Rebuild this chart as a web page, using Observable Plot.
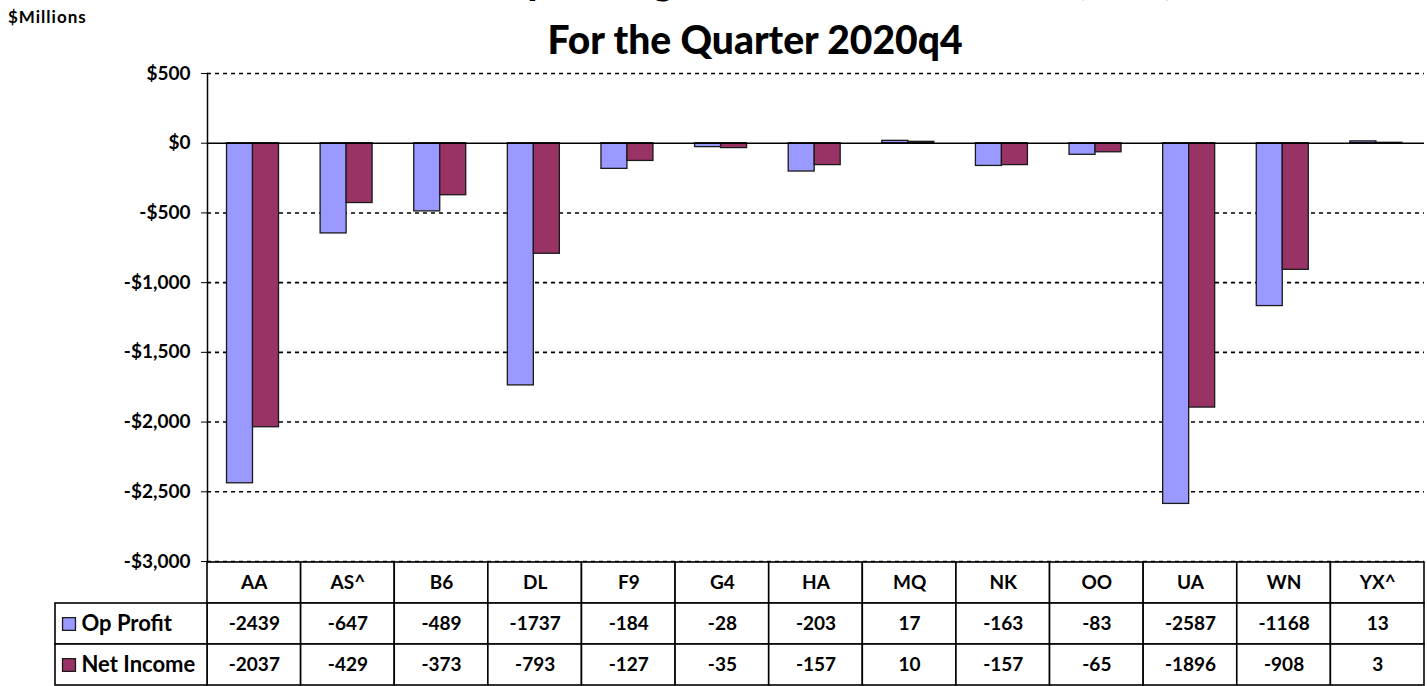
<!DOCTYPE html>
<html>
<head>
<meta charset="utf-8">
<script src="https://cdn.jsdelivr.net/npm/d3@7"></script>
<script src="https://cdn.jsdelivr.net/npm/@observablehq/plot@0.6"></script>
<style>
  html, body { margin: 0; padding: 0; background: #fff; }
  #wrap { position: relative; width: 1427px; height: 686px; overflow: hidden; font-family: Lato, "Open Sans", sans-serif; font-weight: bold; color: #000; }
  .abs { position: absolute; white-space: nowrap; }
  .title { font-size: 39px; line-height: 39px; text-align: center; font-weight: 900; }
</style>
</head>
<body>
<div id="wrap">
  <div class="abs title" style="left:0;width:1670px;top:-40px;">Operating Profit and Net Income (Loss)</div>
  <div class="abs title" style="left:0;width:1510px;top:20px;">For the Quarter 2020q4</div>
  <div class="abs" style="left:8px;top:8px;font-size:17px;line-height:17px;letter-spacing:1px;">$Millions</div>
  <div id="chart" class="abs" style="left:0;top:0;"></div>
  <div id="table" class="abs" style="left:0;top:561px;"></div>
</div>
<script>
const carriers = ["AA","AS^","B6","DL","F9","G4","HA","MQ","NK","OO","UA","WN","YX^"];
const opProfit = [-2439,-647,-489,-1737,-184,-28,-203,17,-163,-83,-2587,-1168,13];
const netIncome = [-2037,-429,-373,-793,-127,-35,-157,10,-157,-65,-1896,-908,3];
const seriesNames = ["Op Profit","Net Income"];
const seriesColors = ["#9999FF","#993366"];
const yTicks = [500,0,-500,-1000,-1500,-2000,-2500,-3000];

const rows = carriers.map((c, i) => ({carrier: c, op: opProfit[i], net: netIncome[i]}));
const money = d => (d < 0 ? "-$" : "$") + d3.format(",")(Math.abs(d));

const W = 1427, ML = 207, MR = 3;
const frameW = W - ML - MR;
const bandW = frameW / carriers.length;
const barW = 26, barOff = 19.5;
const fontStack = "Lato, 'Open Sans', sans-serif";

const chart = Plot.plot({
  width: W,
  height: 563,
  marginTop: 73,
  marginBottom: 2,
  marginLeft: ML,
  marginRight: MR,
  style: {fontFamily: fontStack, fontWeight: "bold", background: "transparent", overflow: "visible"},
  x: {domain: carriers, padding: 0, round: false, axis: null},
  y: {domain: [-3000, 500], axis: null},
  marks: [
    Plot.ruleY(yTicks.filter(d => d !== 0), {stroke: "#000", strokeWidth: 1.6, strokeDasharray: "4,4"}),
    Plot.barY(rows, {x: "carrier", y: "op", fill: seriesColors[0], stroke: "#1a1a1a", strokeWidth: 1.3,
      insetLeft: barOff, insetRight: bandW - barOff - barW}),
    Plot.barY(rows, {x: "carrier", y: "net", fill: seriesColors[1], stroke: "#1a1a1a", strokeWidth: 1.3,
      insetLeft: barOff + barW, insetRight: bandW - barOff - 2 * barW}),
    Plot.ruleY([0], {stroke: "#000", strokeWidth: 1.5}),
    Plot.frame({anchor: "left", stroke: "#000", strokeWidth: 1.5}),
    Plot.axisY({ticks: yTicks, tickFormat: money, tickSize: 6, tickPadding: 11, fontSize: 19, fontWeight: "bold", stroke: "#000"})
  ]
});
document.getElementById("chart").appendChild(chart);

// data table below the chart
const tableRows = ["hdr", seriesNames[0], seriesNames[1]];
const cells = [];
rows.forEach(r => {
  cells.push({carrier: r.carrier, row: "hdr", label: r.carrier});
  cells.push({carrier: r.carrier, row: seriesNames[0], label: String(r.op)});
  cells.push({carrier: r.carrier, row: seriesNames[1], label: String(r.net)});
});
const legendRows = seriesNames.map((s, i) => ({row: s, color: seriesColors[i]}));
const legendW = 152;

const table = Plot.plot({
  width: W,
  height: 125,
  marginTop: 1,
  marginBottom: 1,
  marginLeft: ML,
  marginRight: MR,
  style: {fontFamily: fontStack, fontWeight: "bold", background: "transparent", overflow: "visible"},
  x: {domain: carriers, padding: 0, round: false, axis: null},
  y: {domain: tableRows, padding: 0, round: false, axis: null},
  marks: [
    Plot.cell(cells, {x: "carrier", y: "row", fill: "white", stroke: "#000", strokeWidth: 1.6, inset: 0}),
    Plot.cell(legendRows, {y: "row", fill: "white", stroke: "#000", strokeWidth: 1.6,
      insetTop: 0, insetBottom: 0, insetLeft: -legendW, insetRight: frameW}),
    Plot.text(cells, {x: "carrier", y: "row", text: "label", fontSize: 19, fontWeight: "bold", fill: "#000"}),
    Plot.dot(legendRows.slice(0, 1), {y: "row", frameAnchor: "left", dx: -138.5, symbol: "square", r: 7.3,
      fill: seriesColors[0], stroke: "#1a1a1a", strokeWidth: 1.3}),
    Plot.dot(legendRows.slice(1, 2), {y: "row", frameAnchor: "left", dx: -138.5, symbol: "square", r: 7.3,
      fill: seriesColors[1], stroke: "#1a1a1a", strokeWidth: 1.3}),
    Plot.text(legendRows, {y: "row", text: "row", frameAnchor: "left", dx: -126, textAnchor: "start",
      fontSize: 22, fontWeight: "bold", fill: "#000"})
  ]
});
document.getElementById("table").appendChild(table);
</script>
</body>
</html>
